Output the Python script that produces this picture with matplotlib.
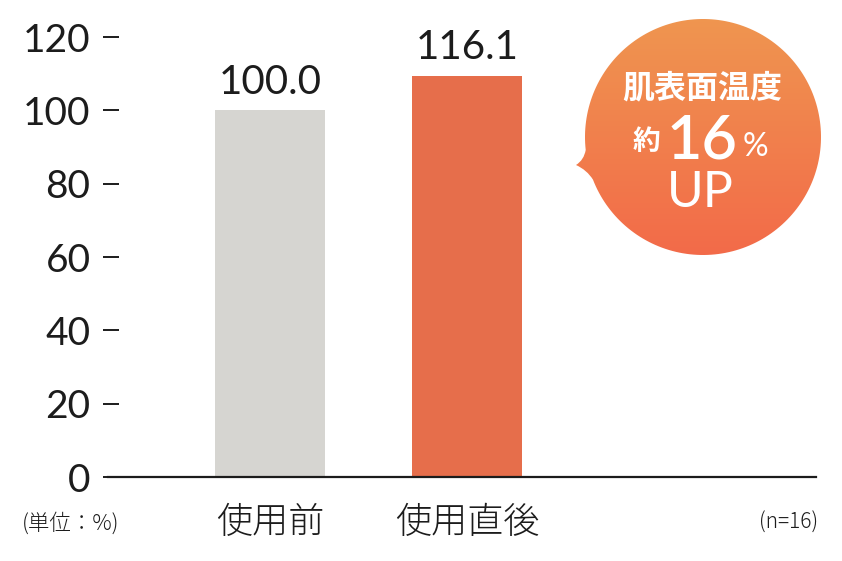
import matplotlib
matplotlib.use("Agg")
import matplotlib.pyplot as plt
import numpy as np
from matplotlib.path import Path
from matplotlib.patches import PathPatch
from matplotlib.colors import LinearSegmentedColormap

plt.rcParams["font.family"] = ["Lato", "Noto Sans CJK JP", "DejaVu Sans"]

# data (bar heights as drawn in the reference, labels as printed)
categories = ["使用前", "使用直後"]
bar_heights = [100.0, 109.5]
value_labels = ["100.0", "116.1"]
bar_colors = ["#d6d5d1", "#e66e4b"]
yticks = [0, 20, 40, 60, 80, 100, 120]

INK = "#1c1c1c"
JP = ["Noto Sans CJK JP", "DejaVu Sans"]

W, H = 842, 561
fig = plt.figure(figsize=(W / 100, H / 100), dpi=100)
ax = fig.add_axes([108 / W, 84 / H, 708 / W, 440 / H])

# spine position first: moving it resets the tick settings
for s in ["top", "right"]:
    ax.spines[s].set_visible(False)
ax.spines["left"].set_position(("outward", -7.9))
ax.spines["left"].set_visible(False)
ax.spines["bottom"].set_linewidth(1.6)
ax.spines["bottom"].set_color(INK)
ax.patch.set_alpha(0)

x = np.arange(len(categories))
ax.bar(x, bar_heights, width=0.558, color=bar_colors, zorder=2)
for xi, h, lab in zip(x, bar_heights, value_labels):
    ax.annotate(lab, (xi, h), xytext=(0, 6.5), textcoords="offset points",
                ha="center", va="bottom", fontsize=29, color=INK)

ax.set_xlim(-0.822, 2.772)
ax.set_ylim(0, 120)
ax.set_yticks(yticks)
ax.set_yticklabels([str(t) for t in yticks], fontsize=28, color=INK)
ax.set_xticks(x)
ax.set_xticklabels(categories, fontsize=26, color=INK, family=JP, weight="light")
ax.tick_params(axis="x", length=0, pad=19)
ax.tick_params(axis="y", length=11.5, width=1.4, color=INK, pad=9)

# overlay in pixel coordinates for the notes and the speech bubble
ov = fig.add_axes([0, 0, 1, 1])
ov.set_xlim(0, W)
ov.set_ylim(H, 0)
ov.axis("off")
ov.patch.set_alpha(0)

ov.text(22, 523, "(単位：%)", fontsize=15.5, color=INK, family=JP, va="center",
        ha="left", weight="light")
ov.text(818, 523, "(n=16)", fontsize=15, color=INK, family=JP, va="center",
        ha="right", weight="light")

# bubble outline: circle plus a small tail on the left
cx, cy, r = 703, 137, 118
t1 = np.deg2rad(173.7)
t2 = np.deg2rad(158.8 + 360)
th = np.linspace(t1, t2, 200)
verts = list(zip(cx + r * np.cos(th), cy + r * np.sin(th)))
codes = [Path.MOVETO] + [Path.LINETO] * (len(verts) - 1)
verts += [(587, 170), (576, 165), (584, 160), tuple(verts[0])]
codes += [Path.CURVE3, Path.CURVE3, Path.CURVE3, Path.CURVE3]
bubble = PathPatch(Path(verts, codes), facecolor="none", edgecolor="none")
ov.add_patch(bubble)

cmap = LinearSegmentedColormap.from_list("bub", ["#ef9650", "#f36a49"])
grad = np.linspace(0, 1, 256).reshape(-1, 1)
img = ov.imshow(grad, cmap=cmap, extent=(570, 830, 258, 16), origin="upper",
                aspect="auto", zorder=3)
img.set_clip_path(bubble)

ov.text(702, 88, "肌表面温度", fontsize=23, color="white", weight="bold",
        family=JP, ha="center", va="center", zorder=4)
ov.text(646, 142, "約", fontsize=20, color="white", weight="bold",
        family=JP, ha="center", va="center", zorder=4)
ov.text(702, 140, "16", fontsize=44, color="white", weight="semibold",
        ha="center", va="center", zorder=4)
ov.text(755, 147, "%", fontsize=23, color="white",
        ha="center", va="center", zorder=4)
ov.text(700, 193, "UP", fontsize=36, color="white",
        ha="center", va="center", zorder=4)

fig.savefig("out.png", dpi=100)
